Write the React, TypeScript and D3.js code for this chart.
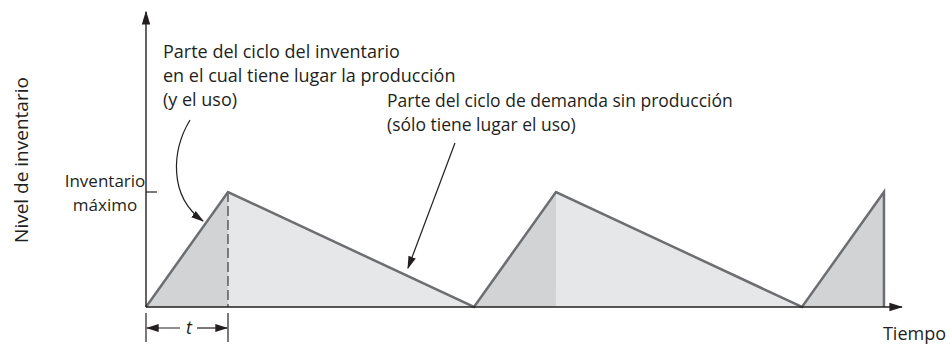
import React from 'react';
import * as d3 from 'd3';

// Ciclo de inventario: tiempo (en unidades de t) y nivel (fracción del máximo)
const tiempo = [0, 1, 4, 5, 8, 9, 9];
const nivel = [0, 1, 0, 1, 0, 1, 0];

const yLabel = 'Nivel de inventario';
const xLabel = 'Tiempo';
const maxLabel = ['Inventario', 'máximo'];
const notaProduccion = ['Parte del ciclo del inventario', 'en el cual tiene lugar la producción', '(y el uso)'];
const notaDemanda = ['Parte del ciclo de demanda sin producción', '(sólo tiene lugar el uso)'];

const W = 950;
const H = 346;
const FONT = '"Open Sans", sans-serif';
const INK = '#231f20';

const App = () => {
  const x = d3.scaleLinear().domain([0, 9.22]).range([146, 902]);
  const y = d3.scaleLinear().domain([0, 1]).range([307, 192]);

  const pts = tiempo.map((t, i) => ({ t, n: nivel[i] }));

  // segmentos: subida = producción, bajada = solo uso
  const segs = d3.pairs(pts).filter(([a, b]) => a.t !== b.t);
  const area = d3.area<{ t: number; n: number }>()
    .x(d => x(d.t))
    .y0(y(0))
    .y1(d => y(d.n));
  const line = d3.line<{ t: number; n: number }>()
    .x(d => x(d.t))
    .y(d => y(d.n));

  const axisTop = 12;
  const axisRight = x(9.22);

  return (
    <svg width={W} height={H} style={{ position: 'absolute', left: 0, top: 0, background: '#fff' }}>
      <defs>
        <marker id="ah" viewBox="0 0 10 10" refX="9" refY="5" markerWidth="13" markerHeight="13" orient="auto-start-reverse" markerUnits="userSpaceOnUse">
          <path d="M0,2 L10,5 L0,8 Z" fill={INK} />
        </marker>
        <marker id="ahBig" viewBox="0 0 10 10" refX="9" refY="5" markerWidth="14" markerHeight="14" orient="auto-start-reverse" markerUnits="userSpaceOnUse">
          <path d="M0,2 L10,5 L0,8 Z" fill={INK} />
        </marker>
      </defs>

      {/* áreas */}
      {segs.map(([a, b], i) => (
        <path key={i} d={area([a, b]) || ''} fill={b.n > a.n ? '#d2d3d5' : '#e6e7e8'} />
      ))}

      {/* línea punteada en t */}
      <line x1={x(1)} x2={x(1)} y1={y(1)} y2={y(0)} stroke="#3a3a3a" strokeWidth={1.2} strokeDasharray="10,4" />

      {/* nivel de inventario */}
      <path d={line(pts) || ''} fill="none" stroke="#6d6e71" strokeWidth={2.5} strokeLinejoin="miter" />

      {/* ejes */}
      <line x1={x(0)} x2={x(0)} y1={y(0)} y2={axisTop} stroke={INK} strokeWidth={1.4} markerEnd="url(#ahBig)" />
      <line x1={x(0)} x2={axisRight} y1={y(0)} y2={y(0)} stroke={INK} strokeWidth={1.4} markerEnd="url(#ahBig)" />
      <line x1={x(0)} x2={x(0) + 11} y1={y(1)} y2={y(1)} stroke={INK} strokeWidth={1.2} />

      {/* cota t */}
      <line x1={x(0)} x2={x(0)} y1={y(0) + 6} y2={342} stroke={INK} strokeWidth={1.2} />
      <line x1={x(1)} x2={x(1)} y1={y(0) + 6} y2={342} stroke={INK} strokeWidth={1.2} />
      <line x1={x(0.5) - 7} x2={x(0) + 1} y1={328} y2={328} stroke={INK} strokeWidth={1.2} markerEnd="url(#ah)" />
      <line x1={x(0.5) + 10} x2={x(1) - 1} y1={328} y2={328} stroke={INK} strokeWidth={1.2} markerEnd="url(#ah)" />
      <text x={x(0.5) + 2} y={334} textAnchor="middle" fontFamily={FONT} fontStyle="italic" fontSize={18} fill={INK}>t</text>

      {/* etiquetas */}
      <text transform={`translate(28,160) rotate(-90)`} textAnchor="middle" fontFamily={FONT} fontSize={19} fill={INK}>{yLabel}</text>
      <text x={946} y={340} textAnchor="end" fontFamily={FONT} fontSize={18} fill={INK}>{xLabel}</text>
      {maxLabel.map((s, i) => (
        <text key={s} x={105} y={187 + i * 24} textAnchor="middle" fontFamily={FONT} fontSize={17} fill={INK}>{s}</text>
      ))}

      {/* notas */}
      {notaProduccion.map((s, i) => (
        <text key={s} x={163} y={58 + i * 24} fontFamily={FONT} fontSize={18} fill={INK}>{s}</text>
      ))}
      {notaDemanda.map((s, i) => (
        <text key={s} x={387} y={107 + i * 24} fontFamily={FONT} fontSize={17.5} fill={INK}>{s}</text>
      ))}

      {/* flechas de las notas */}
      <path d="M190,120 C172,150 168,196 203,221" fill="none" stroke={INK} strokeWidth={1.2} markerEnd="url(#ah)" />
      <line x1={455} y1={143} x2={408} y2={268} stroke={INK} strokeWidth={1.2} markerEnd="url(#ah)" />
    </svg>
  );
};

export default App;
